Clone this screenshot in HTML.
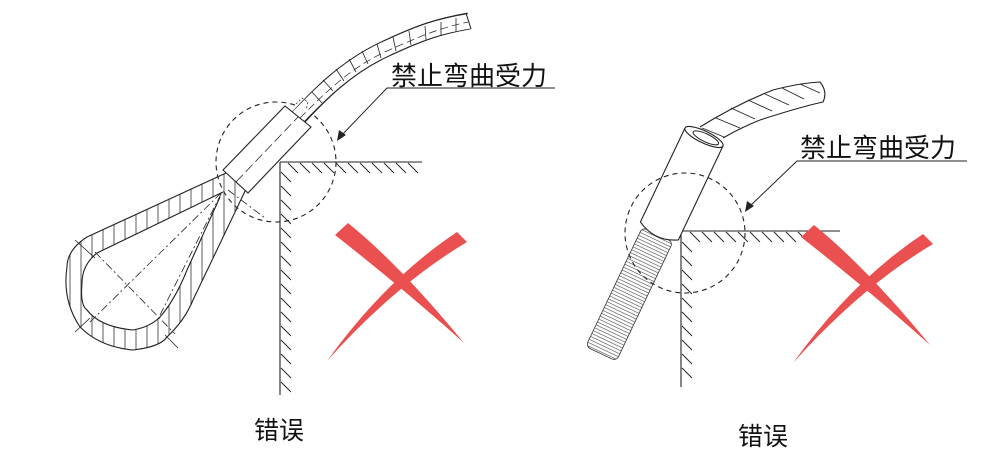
<!DOCTYPE html>
<html><head><meta charset="utf-8">
<style>
html,body{margin:0;padding:0;background:#fff;}
svg{display:block;}
text{font-family:"Liberation Sans","Noto Sans CJK SC",sans-serif;fill:#111;}
</style></head>
<body>
<svg width="1000" height="464" viewBox="0 0 1000 464" xmlns="http://www.w3.org/2000/svg">
<defs>
<pattern id="vh" width="11" height="10" patternUnits="userSpaceOnUse">
<line x1="4" y1="0" x2="4" y2="10" stroke="#333" stroke-width="0.8"/>
</pattern>
<clipPath id="loopclip">
<path clip-rule="evenodd" d="M226,173 L87,237 Q67,250 67,267 Q62,300 80,327 Q100,347 133,350 Q160,347 167,337 Q185,320 193,300 L247,187 Z M223,192 L97,253 Q82,265 82,283 Q80,305 87,310 Q100,327 133,330 Q150,327 160,317 Q175,300 187,270 L220,197 Z"/>
</clipPath>
<pattern id="th" width="4" height="3.2" patternUnits="userSpaceOnUse">
<line x1="0" y1="1.6" x2="4" y2="1.6" stroke="#444" stroke-width="0.6"/>
</pattern>
</defs>

<g fill="none" stroke="#222" stroke-width="1.1">
<line x1="280" y1="162" x2="422" y2="162"/>
<line x1="280" y1="162" x2="280" y2="395"/>
</g>
<g stroke="#222" stroke-width="0.9">
<path d="M288,163 l10,10 M300,163 l10,10 M312,163 l10,10 M324,163 l10,10 M336,163 l10,10 M348,163 l10,10 M360,163 l10,10 M372,163 l10,10 M384,163 l10,10 M396,163 l10,10 M408,163 l10,10"/>
<path d="M281,172 l10,10 M281,186 l10,10 M281,200 l10,10 M281,214 l10,10 M281,228 l10,10 M281,242 l10,10 M281,256 l10,10 M281,270 l10,10 M281,284 l10,10 M281,298 l10,10 M281,312 l10,10 M281,326 l10,10 M281,340 l10,10 M281,354 l10,10 M281,368 l10,10 M281,382 l10,10"/>
</g>
<circle cx="276" cy="162" r="60" fill="none" stroke="#222" stroke-width="1.1" stroke-dasharray="5,4"/>

<rect x="60" y="160" width="200" height="200" fill="url(#vh)" clip-path="url(#loopclip)"/>
<g fill="none" stroke="#222" stroke-width="1.1">
<path d="M226,173 L87,237 Q67,250 67,267 Q62,300 80,327 Q100,347 133,350 Q160,347 167,337 Q185,320 193,300 L247,187"/>
<path d="M223,192 L97,253 Q82,265 82,283 Q80,305 87,310 Q100,327 133,330 Q150,327 160,317 Q175,300 187,270 L220,197"/>
</g>
<g fill="none" stroke="#222" stroke-width="0.8" stroke-dasharray="8,3,2,3">
<line x1="90" y1="322" x2="222" y2="192"/>
<line x1="95" y1="252" x2="175" y2="334"/>
<line x1="160" y1="315" x2="222" y2="192"/>
<line x1="228" y1="190" x2="265" y2="218"/>
</g>
<g stroke="#222" stroke-width="0.8">
<line x1="75" y1="240" x2="95" y2="258"/>
<line x1="75" y1="332" x2="90" y2="318"/>
<line x1="165" y1="335" x2="178" y2="348"/>
</g>

<!-- left rope: uniform width -->
<path d="M296,120 C318,96 345,68 383,50 S440,26 469,21" fill="none" stroke="#222" stroke-width="17"/>
<path d="M294,121 C318,96 345,68 383,50 S440,26 471,21" fill="none" stroke="#fff" stroke-width="14.8"/>
<line x1="466" y1="13" x2="471" y2="29" stroke="#222" stroke-width="1"/>
<g stroke="#222" stroke-width="0.8">
<path d="M312,92 l10,11 M323,80 l10,11 M336,69 l8,12 M349,59 l7,13 M362,51 l6,13 M377,44 l4,14 M393,37 l3,14 M409,31 l2,14 M425,26 l1,14 M441,22 l0,14 M456,18 l0,14"/>
</g>
<path d="M300,118 C325,93 350,68 385,52 S440,28 468,22" fill="none" stroke="#222" stroke-width="0.7" stroke-dasharray="8,4"/>

<polygon points="223,170 285,106 311,127 248,193" fill="#fff" stroke="#222" stroke-width="1.1"/>
<line x1="236" y1="182" x2="298" y2="117" stroke="#222" stroke-width="0.8" stroke-dasharray="10,4"/>
<path d="M296,104 l6,-6 l6,4 l-2,8" fill="none" stroke="#222" stroke-width="0.7" stroke-dasharray="2,2"/>

<text x="391" y="85" font-size="26">禁止弯曲受力</text>
<polyline points="555,88 387,88 340,137" fill="none" stroke="#222" stroke-width="1"/>
<polygon points="337,141 339,130 346,135" fill="#222"/>

<g fill="#e9504f">
<path d="M335,235 L348,223 Q400,265 464,343 Q405,290 335,235 Z"/>
<path d="M457,232 L467,242 Q395,285 327,361 Q385,280 457,232 Z"/>
</g>
<text x="254" y="439" font-size="25">错误</text>

<g fill="none" stroke="#222" stroke-width="1.1">
<line x1="682" y1="231" x2="840" y2="231"/>
<line x1="681" y1="231" x2="681" y2="387"/>
</g>
<g stroke="#222" stroke-width="0.9">
<path d="M690,232 l10,10 M702,232 l10,10 M714,232 l10,10 M726,232 l10,10 M738,232 l10,10 M750,232 l10,10 M762,232 l10,10 M774,232 l10,10 M786,232 l10,10 M798,232 l10,10"/>
<path d="M682,242 l10,10 M682,256 l10,10 M682,270 l10,10 M682,284 l10,10 M682,298 l10,10 M682,312 l10,10 M682,326 l10,10 M682,340 l10,10 M682,354 l10,10 M682,368 l10,10"/>
</g>

<path d="M700,127 Q735,105 773,90 Q800,83 820,82 Q828,92 823,102 Q800,107 760,120 Q740,128 723,138" fill="#fff" stroke="#222" stroke-width="1.1"/>
<g stroke="#222" stroke-width="0.9">
<path d="M702,128 l22,9 M716,118 l24,10 M731,108 l24,11 M748,100 l24,11 M765,94 l24,11 M782,88 l22,11 M800,84 l20,9"/>
</g>

<g transform="translate(704,137) rotate(25.4)">
<rect x="-17" y="108" width="34" height="132" rx="5" fill="url(#th)" stroke="#333" stroke-width="0.8"/>
<path d="M-21,0 L-21,104 Q0,116 21,104 L21,0" fill="#fff" stroke="#222" stroke-width="1.1"/>
<ellipse cx="0" cy="0" rx="21" ry="6" fill="#fff" stroke="#222" stroke-width="1.1"/>
<ellipse cx="2" cy="0" rx="14" ry="4" fill="#fff" stroke="#222" stroke-width="1"/>
</g>
<circle cx="685" cy="233" r="60" fill="none" stroke="#222" stroke-width="1.1" stroke-dasharray="5,4"/>

<text x="800" y="157" font-size="26">禁止弯曲受力</text>
<polyline points="967,161 797,161 748,208" fill="none" stroke="#222" stroke-width="1"/>
<polygon points="745,212 747,201 754,206" fill="#222"/>

<g fill="#e9504f" transform="translate(466,2)">
<path d="M335,235 L348,223 Q400,265 464,343 Q405,290 335,235 Z"/>
<path d="M457,232 L467,242 Q395,285 327,361 Q385,280 457,232 Z"/>
</g>
<text x="738" y="445" font-size="25">错误</text>
</svg>
</body></html>
